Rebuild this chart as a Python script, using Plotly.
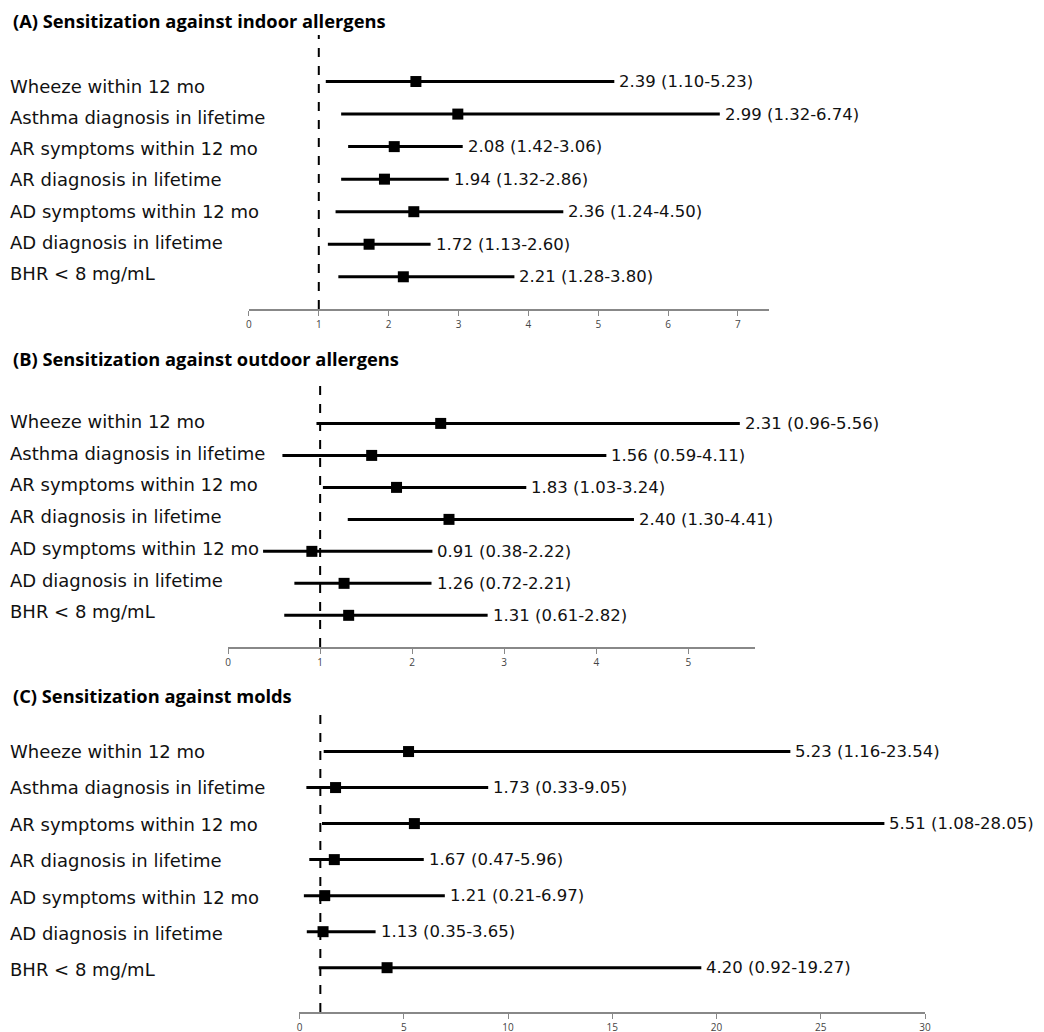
import plotly.graph_objects as go

outcomes = ["Wheeze within 12 mo", "Asthma diagnosis in lifetime", "AR symptoms within 12 mo",
            "AR diagnosis in lifetime", "AD symptoms within 12 mo", "AD diagnosis in lifetime",
            "BHR < 8 mg/mL"]

titles = ["(A) Sensitization against indoor allergens",
          "(B) Sensitization against outdoor allergens",
          "(C) Sensitization against molds"]

or_a = [2.39, 2.99, 2.08, 1.94, 2.36, 1.72, 2.21]
lo_a = [1.10, 1.32, 1.42, 1.32, 1.24, 1.13, 1.28]
hi_a = [5.23, 6.74, 3.06, 2.86, 4.50, 2.60, 3.80]

or_b = [2.31, 1.56, 1.83, 2.40, 0.91, 1.26, 1.31]
lo_b = [0.96, 0.59, 1.03, 1.30, 0.38, 0.72, 0.61]
hi_b = [5.56, 4.11, 3.24, 4.41, 2.22, 2.21, 2.82]

or_c = [5.23, 1.73, 5.51, 1.67, 1.21, 1.13, 4.20]
lo_c = [1.16, 0.33, 1.08, 0.47, 0.21, 0.35, 0.92]
hi_c = [23.54, 9.05, 28.05, 5.96, 6.97, 3.65, 19.27]

ticks_a = [0, 1, 2, 3, 4, 5, 6, 7]
ticks_b = [0, 1, 2, 3, 4, 5]
ticks_c = [0, 5, 10, 15, 20, 25, 30]

W, H = 1044, 1032
OFF = 8  # page body margin
FONT = "DejaVu Sans"
TFONT = "Open Sans"


def fx(px):
    return (px - OFF) / W


def fy(py):
    return 1 - (py - OFF) / H


panels = [
    # data, ticks, x range, x px domain, y px domain, y range, title y px, label y start/step
    (or_a, lo_a, hi_a, ticks_a, [0, 7.45], (248, 773), (35, 309), [6.99, -1.43], 20, (86, 31.3)),
    (or_b, lo_b, hi_b, ticks_b, [0, 5.72], (227, 758), (378, 647), [6.99, -1.42], 359, (421.5, 31.7)),
    (or_c, lo_c, hi_c, ticks_c, [0, 30], (299, 930), (713, 1012), [7.23, -1.07], 695, (751.5, 36.4)),
]

fig = go.Figure()
annotations = []
shapes = []
layout = {}
for k, (orv, lov, hiv, ticks, xr, xd, yd, yr, ty, (ly0, lstep)) in enumerate(panels):
    n = k + 1
    xa = "x" if n == 1 else f"x{n}"
    ya = "y" if n == 1 else f"y{n}"
    idx = list(range(len(outcomes)))
    fig.add_trace(go.Scatter(
        x=orv, y=idx, mode="markers", xaxis=xa, yaxis=ya, cliponaxis=False,
        marker=dict(symbol="square", size=11, color="black"),
        error_x=dict(type="data", symmetric=False,
                     array=[h - o for h, o in zip(hiv, orv)],
                     arrayminus=[o - l for o, l in zip(orv, lov)],
                     thickness=3, width=0, color="black"),
        showlegend=False, hoverinfo="skip"))
    for i, (o, l, h) in enumerate(zip(orv, lov, hiv)):
        annotations.append(dict(xref=xa, yref=ya, x=h, y=i, xshift=3,
                                text=f"{o:.2f} ({l:.2f}-{h:.2f})",
                                xanchor="left", yanchor="middle", showarrow=False,
                                font=dict(size=16.5, color="#111", family=FONT)))
    layout["xaxis" if n == 1 else f"xaxis{n}"] = dict(
        domain=[fx(xd[0]), fx(xd[1])], range=xr, anchor=ya,
        tickvals=ticks, ticks="outside", ticklen=5, tickcolor="#888",
        showline=True, linecolor="#888", linewidth=1.5, showgrid=False, zeroline=False,
        tickfont=dict(size=10, color="#444", family=TFONT))
    layout["yaxis" if n == 1 else f"yaxis{n}"] = dict(
        domain=[fy(yd[1]), fy(yd[0])], range=yr, anchor=xa,
        visible=False, showgrid=False, zeroline=False)
    shapes.append(dict(type="line", xref=xa, yref=f"{ya} domain", x0=1, x1=1, y0=0, y1=1,
                       line=dict(color="black", width=2, dash="dash")))
    for i, lab in enumerate(outcomes):
        annotations.append(dict(xref="paper", yref="paper", x=fx(5), y=fy(ly0 + lstep * i),
                                text=lab, xanchor="left", yanchor="middle", showarrow=False,
                                font=dict(size=18, color="#111", family=FONT)))
    annotations.append(dict(xref="paper", yref="paper", x=fx(8), y=fy(ty),
                            text=f"<b>{titles[k]}</b>", xanchor="left", yanchor="middle",
                            showarrow=False, font=dict(size=18.3, color="black", family=TFONT)))

fig.update_layout(width=W, height=H, margin=dict(l=0, r=0, t=0, b=0),
                  plot_bgcolor="white", paper_bgcolor="white",
                  annotations=annotations, shapes=shapes, **layout)
fig.write_html("out.html")
